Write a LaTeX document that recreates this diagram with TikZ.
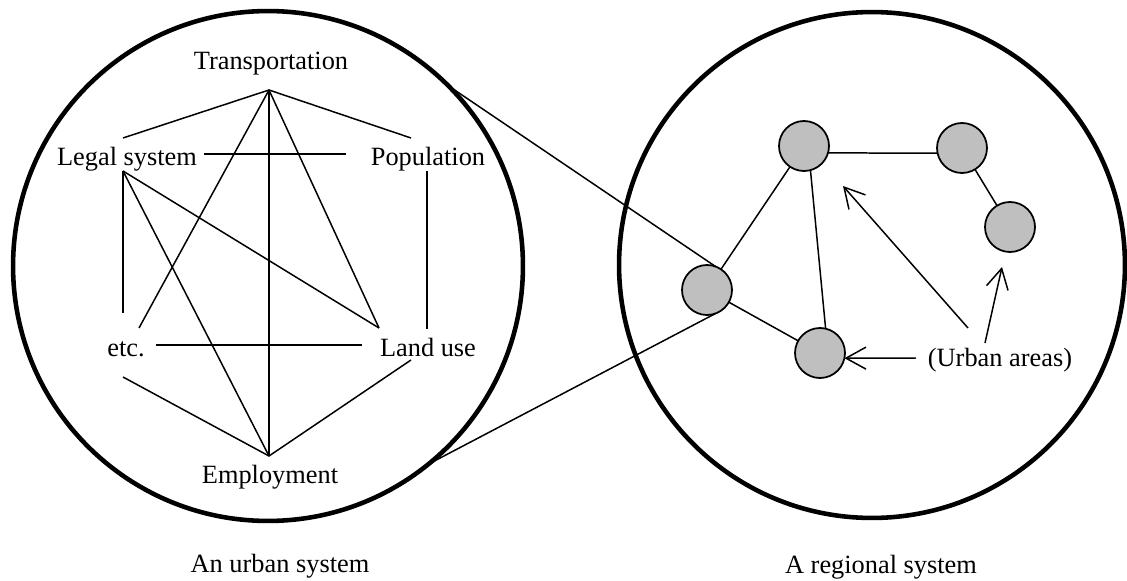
\documentclass[tikz,border=0pt]{standalone}
\usepackage{fontspec}
\setmainfont{Liberation Serif}
\usetikzlibrary{positioning}
\usetikzlibrary{arrows.meta}
\colorlet{townc}{black!25}
\tikzset{
  ring/.style={circle, draw, line width=2.6pt, minimum size=10.2cm, inner sep=0pt, outer sep=0pt},
  factor/.style={anchor=base, inner sep=0pt, font=\fontsize{15}{18}\selectfont},
  link/.style={line width=0.85pt},
  town/.style={circle, draw, line width=1pt, fill=townc, minimum size=1cm, inner sep=0pt, outer sep=0pt},
  pointer/.style={line width=0.85pt, -{Straight Barb[length=0.4cm, width=0.44cm, line width=0.85pt]}}
}

\begin{document}
\begin{tikzpicture}[x=0.02cm, y=-0.02cm]
\useasboundingbox (0,0) rectangle (1127,581);

\node[ring] (urban) at (268,266) {};
\node[ring, minimum size=10.12cm] (region) at (872,265) {};

\node[factor] (trans) at (271,70) {Transportation};
\node[factor] (legal) at (127,166) {Legal system};
\node[factor] (pop) at (428,166) {Population};
\node[factor] (etc) at (126,357) {etc.};
\node[factor] (land) at (428,357) {Land use};
\node[factor] (employ) at (270,483) {Employment};
\node[factor] (urbancap) at (280,572) {An urban system};
\node[factor] (regioncap) at (881,573) {A regional system};
\node[factor] (areas) at (1000,366) {(Urban areas)};

\coordinate (t) at (269,90);
\coordinate (tl) at (123,138);
\coordinate (tr) at (411,138);
\coordinate (lr) at (204,154);
\coordinate (pl) at (346,154);
\coordinate (l) at (123,171);
\coordinate (p) at (427,171);
\coordinate (eu) at (123,313);
\coordinate (ee) at (139,328);
\coordinate (lu) at (379,328);
\coordinate (pu) at (427,329);
\coordinate (er) at (156,345);
\coordinate (ll) at (362,345);
\coordinate (ed) at (123,377);
\coordinate (ld) at (411,360);
\coordinate (e) at (269,456);

\draw[link] (tl) -- (t) -- (tr);
\draw[link] (lr) -- (pl);
\draw[link] (l) -- (eu);
\draw[link] (l) -- (e);
\draw[link] (l) -- (lu);
\draw[link] (t) -- (ee);
\draw[link] (t) -- (e);
\draw[link] (t) -- (lu);
\draw[link] (p) -- (pu);
\draw[link] (er) -- (ll);
\draw[link] (ed) -- (e) -- (ld);

\node[town] (n1) at (804,146) {};
\node[town] (n2) at (962,148) {};
\node[town] (n3) at (1010,227) {};
\node[town] (n4) at (707,290) {};
\node[town] (n5) at (820,353) {};

\draw[link] (n1.-16) -- (n2.192);
\draw[link] (n1) -- (n4);
\draw[link] (n1.-75) -- (n5.77);
\draw[link] (n4) -- (n5);
\draw[link] (n2) -- (n3);

\draw[link] (urban.45) -- (n4.70);
\draw[link] (urban.-51) -- (n4.-70);

\coordinate (a1) at (968,328);
\coordinate (h1) at (843,186);
\coordinate (a3) at (985,343);
\coordinate (h3) at (1002,267);
\coordinate (a5) at (916,358);
\draw[pointer] (a1) -- (h1);
\draw[pointer] (a3) -- (h3);
\draw[pointer] (a5) -- (n5.-12);
\end{tikzpicture}
\end{document}
